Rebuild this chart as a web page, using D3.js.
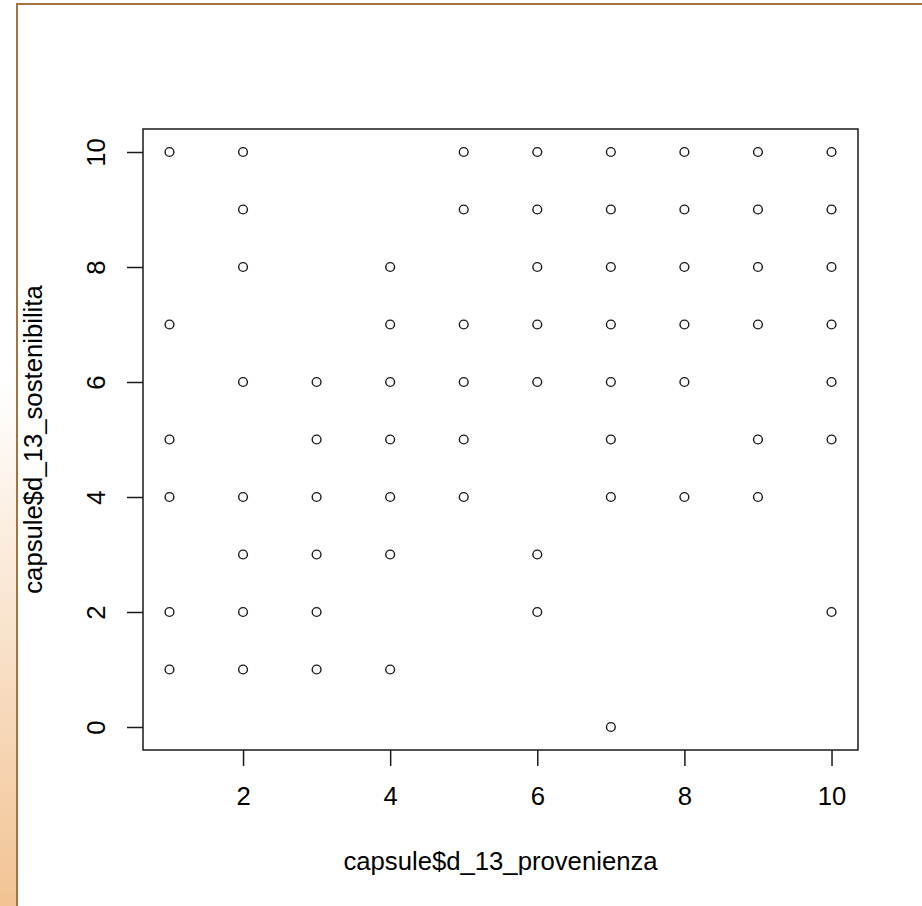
<!DOCTYPE html>
<html>
<head>
<meta charset="utf-8">
<script src="https://cdn.jsdelivr.net/npm/d3@7"></script>
<style>
  html, body { margin: 0; padding: 0; background: #ffffff; }
  svg { display: block; }
  text { font-family: "Liberation Sans", Arial, sans-serif; fill: #000; }
</style>
</head>
<body>
<script>
// Observed pairs: provenienza (x) and sostenibilita (y) scores
const provenienza = [
  1, 1, 1, 1, 1, 1,
  2, 2, 2, 2, 2, 2, 2, 2,
  3, 3, 3, 3, 3, 3,
  4, 4, 4, 4, 4, 4, 4,
  5, 5, 5, 5, 5, 5,
  6, 6, 6, 6, 6, 6, 6,
  7, 7, 7, 7, 7, 7, 7, 7,
  8, 8, 8, 8, 8, 8,
  9, 9, 9, 9, 9, 9,
  10, 10, 10, 10, 10, 10, 10
];
const sostenibilita = [
  10, 7, 5, 4, 2, 1,
  10, 9, 8, 6, 4, 3, 2, 1,
  6, 5, 4, 3, 2, 1,
  8, 7, 6, 5, 4, 3, 1,
  10, 9, 7, 6, 5, 4,
  10, 9, 8, 7, 6, 3, 2,
  10, 9, 8, 7, 6, 5, 4, 0,
  10, 9, 8, 7, 6, 4,
  10, 9, 8, 7, 5, 4,
  10, 9, 8, 7, 6, 5, 2
];
const xTicks = [2, 4, 6, 8, 10];
const yTicks = [0, 2, 4, 6, 8, 10];
const xTitle = "capsule$d_13_provenienza";
const yTitle = "capsule$d_13_sostenibilita";

const W = 922, H = 906;
const plot = { left: 143, top: 129, right: 858, bottom: 750 };
const fontSize = 25.7;

const svg = d3.select("body").append("svg")
  .attr("width", W).attr("height", H);

// Window frame: tinted strip on the left, brown edges
const defs = svg.append("defs");
const grad = defs.append("linearGradient")
  .attr("id", "strip").attr("x1", 0).attr("y1", 0).attr("x2", 0).attr("y2", 1);
grad.append("stop").attr("offset", "0").attr("stop-color", "#ffffff");
grad.append("stop").attr("offset", "0.42").attr("stop-color", "#ffffff");
grad.append("stop").attr("offset", "1").attr("stop-color", "#f2c393");
svg.append("rect").attr("x", 0).attr("y", 0).attr("width", 17).attr("height", H)
  .attr("fill", "url(#strip)");
svg.append("line").attr("x1", 17).attr("x2", 17).attr("y1", 3).attr("y2", H)
  .attr("stroke", "#a6743f").attr("stroke-width", 2);
svg.append("line").attr("x1", 16).attr("x2", W).attr("y1", 4).attr("y2", 4)
  .attr("stroke", "#a6743f").attr("stroke-width", 2);

// Scales with R's 4% padding around the data range
function padded(ext) {
  const p = (ext[1] - ext[0]) * 0.04;
  return [ext[0] - p, ext[1] + p];
}
const x = d3.scaleLinear().domain(padded(d3.extent(provenienza)))
  .range([plot.left, plot.right]);
const y = d3.scaleLinear().domain(padded(d3.extent(sostenibilita)))
  .range([plot.bottom, plot.top]);

const ink = "#1a1a1a";

// Axes
const xAxis = svg.append("g")
  .attr("transform", `translate(0,${plot.bottom})`)
  .call(d3.axisBottom(x).tickValues(xTicks).tickSize(16).tickPadding(21).tickFormat(d3.format("d")));
xAxis.select(".domain").remove();
xAxis.selectAll("line").attr("stroke", ink).attr("stroke-width", 1.5);
xAxis.selectAll("text").attr("font-size", fontSize).attr("fill", "#000")
  .style("font-family", "'Liberation Sans', Arial, sans-serif");

const yAxis = svg.append("g")
  .attr("transform", `translate(${plot.left},0)`)
  .call(d3.axisLeft(y).tickValues(yTicks).tickSize(16).tickPadding(0).tickFormat(d3.format("d")));
yAxis.select(".domain").remove();
yAxis.selectAll("line").attr("stroke", ink).attr("stroke-width", 1.5);
yAxis.selectAll(".tick text")
  .attr("x", null).attr("dy", null)
  .attr("font-size", fontSize).attr("fill", "#000")
  .attr("text-anchor", "middle")
  .attr("transform", "translate(-38,0) rotate(-90)")
  .style("font-family", "'Liberation Sans', Arial, sans-serif");

// Plot box
svg.append("rect")
  .attr("x", plot.left).attr("y", plot.top)
  .attr("width", plot.right - plot.left).attr("height", plot.bottom - plot.top)
  .attr("fill", "none").attr("stroke", ink).attr("stroke-width", 1.5);

// Points (open circles)
svg.append("g").selectAll("circle")
  .data(d3.range(provenienza.length))
  .join("circle")
  .attr("cx", i => x(provenienza[i]))
  .attr("cy", i => y(sostenibilita[i]))
  .attr("r", 4.4)
  .attr("fill", "none")
  .attr("stroke", ink)
  .attr("stroke-width", 1.4);

// Axis titles
svg.append("text")
  .attr("x", (plot.left + plot.right) / 2).attr("y", 870)
  .attr("text-anchor", "middle").attr("font-size", fontSize)
  .text(xTitle);
svg.append("text")
  .attr("transform", `translate(42,${(plot.top + plot.bottom) / 2}) rotate(-90)`)
  .attr("text-anchor", "middle").attr("font-size", fontSize)
  .text(yTitle);
</script>
</body>
</html>
